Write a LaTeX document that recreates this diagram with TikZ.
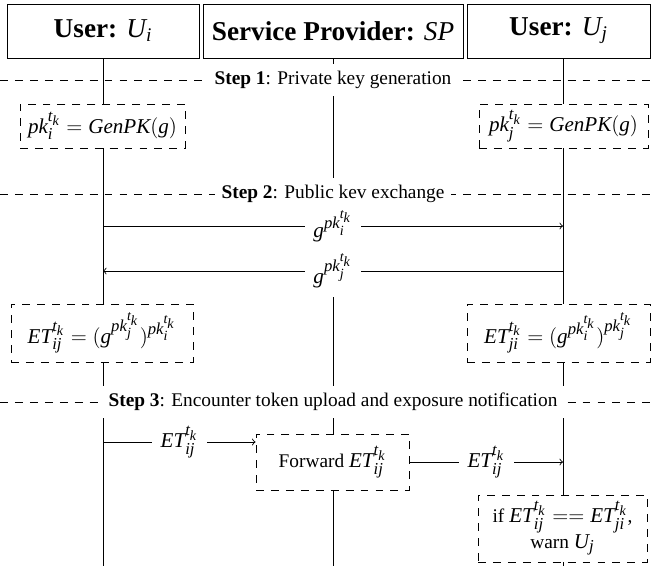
\documentclass[tikz,border=0pt]{standalone}
\usepackage{fontspec}
\setmainfont{Liberation Serif}
\DeclareSymbolFont{letters}{TU}{\rmdefault}{m}{it}
\DeclareMathSizes{11}{12}{9.5}{8}
\DeclareMathSizes{15.5}{15.5}{11}{8.5}

\begin{document}
\begin{tikzpicture}[x=0.2mm, y=-0.2mm, line width=0.5pt,
	font=\fontsize{11}{13.5}\selectfont,
	actor/.style={draw, fill=white, inner sep=0pt, minimum height=54*0.2mm,
		font=\fontsize{15.5}{18}\selectfont\bfseries},
	lifeline/.style={draw},
	stepline/.style={draw, dash pattern=on 4.5pt off 4pt},
	steplabel/.style={fill=white, inner sep=4pt},
	proc/.style={draw, fill=white, dash pattern=on 4.5pt off 4pt, inner sep=2pt},
	msg/.style={fill=white, inner sep=5pt}]

	% parameters
	\def\px{0.2mm}
	\def\xi{103}
	\def\xs{333}
	\def\xj{563}
	\def\ybot{566}

	\useasboundingbox (0,0) rectangle (652,\ybot);

	% participants
	\node[actor, minimum width=192*\px] (ui) at (103,31) {User: $U_i$};
	\node[actor, minimum width=260*\px] (sp) at (333,31) {Service Provider: $SP$};
	\node[actor, minimum width=183*\px] (uj) at (558.5,31) {User: $U_j$};

	% lifelines
	\coordinate (ui-end) at (\xi,\ybot);
	\coordinate (sp-end) at (\xs,\ybot);
	\coordinate (uj-end) at (\xj,\ybot);
	\draw[lifeline] (ui.south -| ui-end) -- (ui-end);
	\draw[lifeline] (sp.south -| sp-end) -- (sp-end);
	\draw[lifeline] (uj.south -| uj-end) -- (uj-end);

	% steps
	\foreach \y/\txt [count=\n] in {80/Private key generation,
		194/Public kev exchange,
		402/Encounter token upload and exposure notification} {
		\coordinate (s\n-l) at (0,\y);
		\coordinate (s\n-r) at (652,\y);
		\draw[stepline] (s\n-l) -- (s\n-r);
		\node[steplabel] (step\n) at (\xs,\y) {\textbf{Step \n}: \txt};
	}

	% step 1
	\node[proc, minimum width=165*\px, minimum height=44*\px] (pki) at (102.5,126)
		{$pk_i^{t_k} = GenPK(g)$};
	\node[proc, minimum width=169*\px, minimum height=44*\px] (pkj) at (563.5,126)
		{$pk_j^{t_k} = GenPK(g)$};

	% step 2
	\coordinate (ui-m1) at (\xi,226);
	\coordinate (uj-m1) at (\xj,226);
	\coordinate (ui-m2) at (\xi,271);
	\coordinate (uj-m2) at (\xj,271);
	\draw[->] (ui-m1) -- node[msg] {$g^{pk_i^{t_k}}$} (uj-m1);
	\draw[->] (uj-m2) -- node[msg] {$g^{pk_j^{t_k}}$} (ui-m2);

	\node[proc, minimum width=182*\px, minimum height=58*\px] (eti) at (102,333)
		{$ET_{ij}^{t_k} = (g^{pk_j^{t_k}})^{pk_i^{t_k}}$};
	\node[proc, minimum width=183*\px, minimum height=58*\px] (etj) at (558.5,333)
		{$ET_{ji}^{t_k} = (g^{pk_i^{t_k}})^{pk_j^{t_k}}$};

	% step 3
	\node[proc, minimum width=153*\px, minimum height=56*\px] (fwd) at (332.5,462)
		{Forward $ET_{ij}^{t_k}$};
	\coordinate (ui-m3) at (\xi,442);
	\draw[->] (ui-m3) -- node[msg] {$ET_{ij}^{t_k}$} (ui-m3 -| fwd.west);
	\draw[->] (fwd.east) -- node[msg] {$ET_{ij}^{t_k}$} (fwd.east -| uj-end);

	\node[proc, minimum width=169*\px, minimum height=67*\px, align=center] (chk)
		at (562.5,528.5) {if $ET_{ij}^{t_k} == ET_{ji}^{t_k}$,\\ warn $U_j$};

\end{tikzpicture}
\end{document}
